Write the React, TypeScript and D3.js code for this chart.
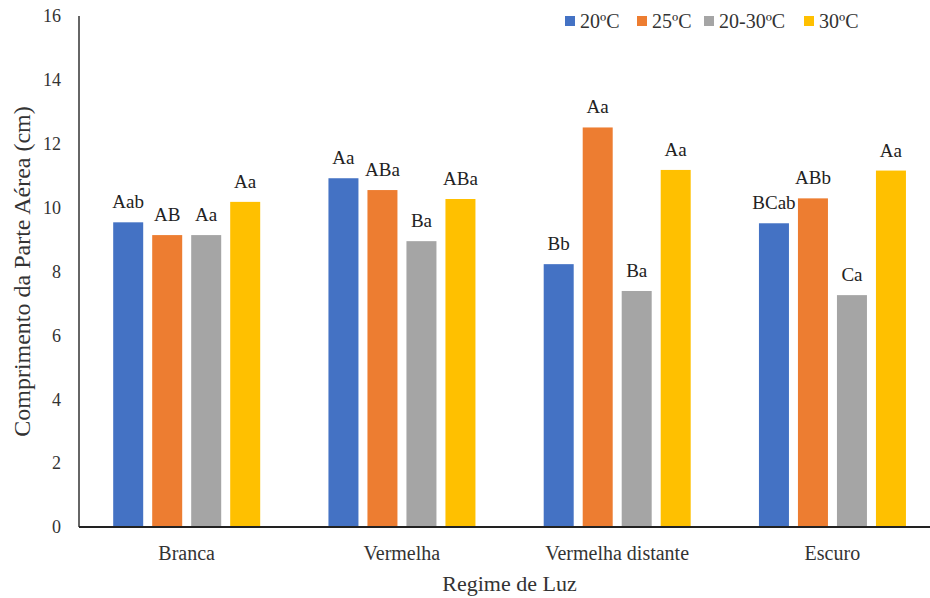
import React from "react";
import * as d3 from "d3";

const categories = ["Branca", "Vermelha", "Vermelha distante", "Escuro"];
const seriesNames = ["20ºC", "25ºC", "20-30ºC", "30ºC"];
const seriesColors = ["#4472C4", "#ED7D31", "#A5A5A5", "#FFC000"];
// values[series][category]
const v20 = [9.54, 10.92, 8.23, 9.51];
const v25 = [9.14, 10.55, 12.51, 10.29];
const v2030 = [9.14, 8.95, 7.39, 7.26];
const v30 = [10.18, 10.27, 11.18, 11.16];
const values = [v20, v25, v2030, v30];
const l20 = ["Aab", "Aa", "Bb", "BCab"];
const l25 = ["AB", "ABa", "Aa", "ABb"];
const l2030 = ["Aa", "Ba", "Ba", "Ca"];
const l30 = ["Aa", "ABa", "Aa", "Aa"];
const labels = [l20, l25, l2030, l30];
const yTicks = [0, 2, 4, 6, 8, 10, 12, 14, 16];

const FONT = "Liberation Serif";

export default function App() {
  const W = 930;
  const H = 598;
  const left = 79;
  const right = 940;
  const top = 16;
  const bottom = 527;

  const x0 = d3.scaleBand<string>().domain(categories).range([left, right]).padding(0);
  const gw = x0.bandwidth();
  const x1 = d3
    .scaleBand<string>()
    .domain(seriesNames)
    .range([34.2, 181.2])
    .paddingInner(9 / 39)
    .paddingOuter(0);
  const y = d3.scaleLinear().domain([0, 16]).range([bottom, top]);

  const legendX = [565, 637, 704, 804];

  return (
    <svg
      width={W}
      height={H}
      fontFamily={FONT}
      style={{ position: "absolute", left: 0, top: 0, background: "#fff" }}
    >
      <rect x={0} y={0} width={W} height={H} fill="#fff" />
      {/* bars */}
      {seriesNames.map((s, si) =>
        categories.map((c, ci) => {
          const xx = (x0(c) as number) + (x1(s) as number);
          const v = values[si][ci];
          return (
            <g key={s + c}>
              <rect
                x={xx}
                y={y(v)}
                width={x1.bandwidth()}
                height={bottom - y(v)}
                fill={seriesColors[si]}
              />
              <text
                x={xx + x1.bandwidth() / 2}
                y={y(v) - 14}
                textAnchor="middle"
                fontSize={19}
                fill="#222"
              >
                {labels[si][ci]}
              </text>
            </g>
          );
        })
      )}
      {/* axes */}
      <line x1={left} x2={left} y1={top} y2={bottom} stroke="#333" strokeWidth={1.5} />
      <line x1={left} x2={W} y1={bottom} y2={bottom} stroke="#222" strokeWidth={2} />
      {yTicks.map((t) => (
        <text
          key={t}
          x={61}
          y={y(t)}
          dy="0.35em"
          textAnchor="end"
          fontSize={18}
          fill="#333"
        >
          {t}
        </text>
      ))}
      {categories.map((c) => (
        <text
          key={c}
          x={(x0(c) as number) + gw / 2}
          y={560}
          textAnchor="middle"
          fontSize={20}
          fill="#333"
        >
          {c}
        </text>
      ))}
      <text x={(left + right) / 2} y={591} textAnchor="middle" fontSize={22} fill="#333">
        Regime de Luz
      </text>
      <text
        transform={`translate(30,${(top + bottom) / 2}) rotate(-90)`}
        textAnchor="middle"
        fontSize={24}
        fill="#333"
      >
        Comprimento da Parte Aérea (cm)
      </text>
      {/* legend */}
      {seriesNames.map((s, i) => (
        <g key={s}>
          <rect x={legendX[i]} y={16} width={10} height={10} fill={seriesColors[i]} />
          <text x={legendX[i] + 15} y={28} fontSize={20} fill="#333">
            {s}
          </text>
        </g>
      ))}
    </svg>
  );
}
